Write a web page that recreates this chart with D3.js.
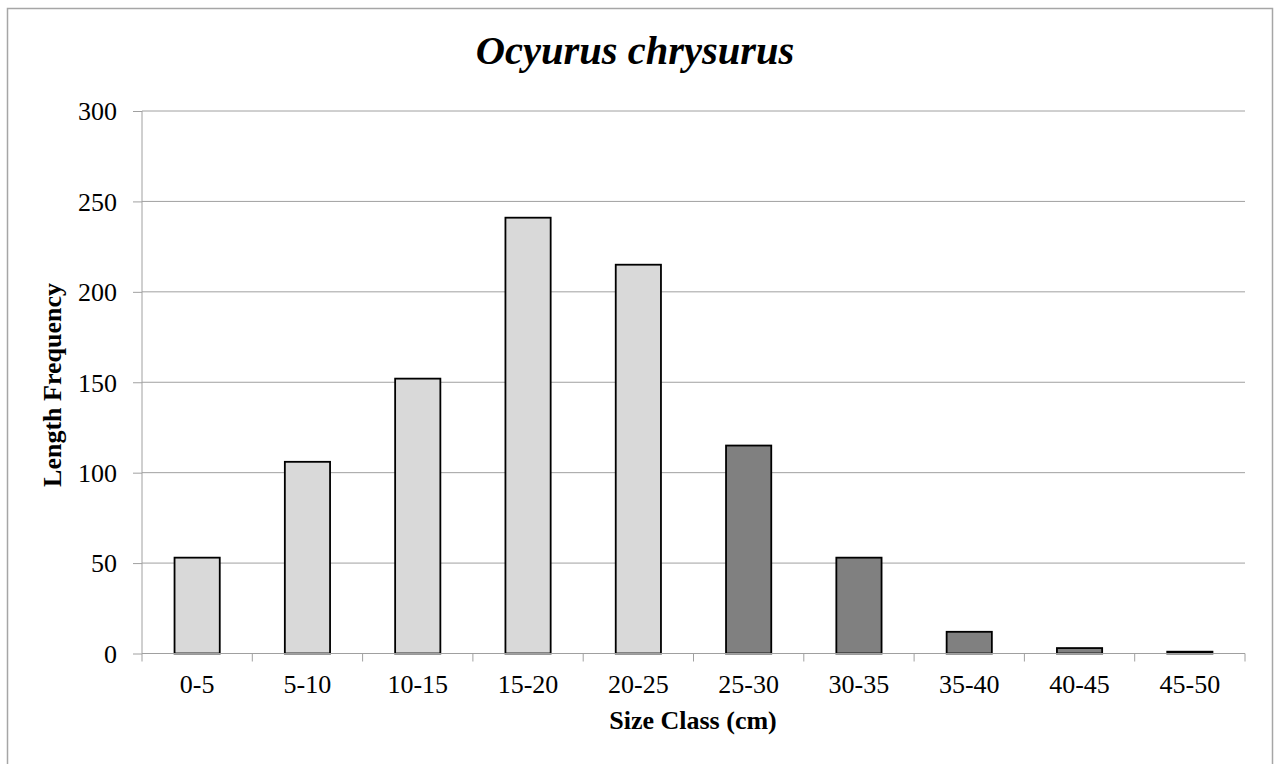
<!DOCTYPE html>
<html><head><meta charset="utf-8">
<script src="https://cdn.jsdelivr.net/npm/d3@7"></script>
<style>body{margin:0;background:#fff}svg{display:block}</style>
</head><body>
<script>
const categories = ["0-5","5-10","10-15","15-20","20-25","25-30","30-35","35-40","40-45","45-50"];
const frequencies = [53,106,152,241,215,115,53,12,3,1];
const groups = ["juvenile","juvenile","juvenile","juvenile","juvenile","adult","adult","adult","adult","adult"];
const yTicks = [0,50,100,150,200,250,300];
const title = "Ocyurus chrysurus";
const xTitle = "Size Class (cm)";
const yTitle = "Length Frequency";

const W = 1276, H = 764;
const m = {left:142, right:1245, top:111, bottom:653.5};
const font = "'Liberation Serif','Times New Roman',serif";
const svg = d3.select("body").append("svg").attr("width",W).attr("height",H);
svg.append("rect").attr("x",7.5).attr("y",8.5).attr("width",1265).attr("height",770)
  .attr("fill","#fff").attr("stroke","#a6a6a6").attr("stroke-width",1.5);

const x = d3.scaleBand().domain(categories).range([m.left,m.right]).paddingInner(0.59).paddingOuter(0.295);
const y = d3.scaleLinear().domain([0,300]).range([m.bottom,m.top]);

// gridlines
svg.append("g").selectAll("line").data(yTicks.filter(d=>d>0)).join("line")
  .attr("x1",m.left).attr("x2",m.right).attr("y1",d=>y(d)).attr("y2",d=>y(d))
  .attr("stroke","#a0a0a0").attr("stroke-width",1);

// y axis
const ya = svg.append("g").attr("transform",`translate(${m.left},0)`)
  .call(d3.axisLeft(y).tickValues(yTicks).tickSize(9).tickPadding(16));
ya.select(".domain").attr("stroke","#a0a0a0").attr("d",`M0,${m.top}V${m.bottom}`);
ya.selectAll(".tick line").attr("stroke","#a0a0a0");
ya.selectAll("text").attr("font-family",font).attr("font-size",26).attr("fill","#000").attr("dy","0.34em");

// bars
svg.append("g").selectAll("rect").data(categories).join("rect")
  .attr("x",d=>x(d)).attr("width",x.bandwidth())
  .attr("y",(d,i)=>y(frequencies[i])).attr("height",(d,i)=>y(0)-y(frequencies[i]))
  .attr("fill",(d,i)=>groups[i]==="juvenile"?"#d9d9d9":"#808080")
  .attr("stroke","#000").attr("stroke-width",1.8);

// x axis
const step = x.step();
const xa = svg.append("g").attr("transform",`translate(0,${m.bottom})`);
xa.append("line").attr("x1",m.left).attr("x2",m.right).attr("stroke","#a0a0a0");
xa.selectAll("line.tk").data(d3.range(categories.length+1)).join("line").attr("class","tk")
  .attr("x1",i=>m.left+i*step).attr("x2",i=>m.left+i*step).attr("y1",0).attr("y2",8)
  .attr("stroke","#a0a0a0");
xa.selectAll("text").data(categories).join("text")
  .attr("x",d=>x(d)+x.bandwidth()/2).attr("y",39.5).attr("text-anchor","middle")
  .attr("font-family",font).attr("font-size",26).text(d=>d);

// titles
svg.append("text").attr("x",635).attr("y",64).attr("text-anchor","middle")
  .attr("font-family",font).attr("font-size",40.5).attr("font-weight","bold").attr("font-style","italic").text(title);
svg.append("text").attr("x",693).attr("y",729).attr("text-anchor","middle")
  .attr("font-family",font).attr("font-size",26).attr("font-weight","bold").text(xTitle);
svg.append("text").attr("transform",`translate(61,385) rotate(-90)`).attr("text-anchor","middle")
  .attr("font-family",font).attr("font-size",26).attr("font-weight","bold").text(yTitle);
</script>
</body></html>
